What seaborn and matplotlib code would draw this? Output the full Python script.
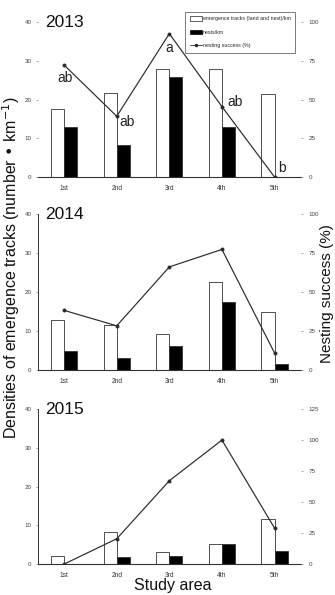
import pandas as pd
import matplotlib
matplotlib.use('Agg')
import matplotlib.pyplot as plt
import seaborn as sns
from matplotlib.patches import Patch
from matplotlib.lines import Line2D

# Datos
areas = ['1st', '2nd', '3rd', '4th', '5th']
years = ['2013', '2014', '2015']

tracks_2013 = [17.6, 21.7, 28.0, 27.9, 21.5]
nests_2013 = [12.8, 8.2, 25.9, 12.8, 0.0]
success_2013 = [72.2, 39.2, 92.5, 45.4, 0.0]

tracks_2014 = [12.8, 11.5, 9.2, 22.7, 14.8]
nests_2014 = [4.9, 3.2, 6.2, 17.5, 1.5]
success_2014 = [38.3, 28.4, 66.2, 77.4, 11.0]

tracks_2015 = [2.0, 8.4, 3.1, 5.1, 11.7]
nests_2015 = [0.0, 1.7, 2.1, 5.1, 3.3]
success_2015 = [0.0, 20.4, 67.2, 100.0, 29.0]

letters_2013 = ['ab', 'ab', 'a', 'ab', 'b']
right_max = [100, 100, 125]

lab_tracks = 'emergence tracks (land and nest)/km'
lab_nests = 'nests/km'
lab_success = 'nesting success (%)'

tracks_all = [tracks_2013, tracks_2014, tracks_2015]
nests_all = [nests_2013, nests_2014, nests_2015]
success_all = [success_2013, success_2014, success_2015]

sns.set_style('white')
plt.rcParams['font.family'] = ['Liberation Sans', 'DejaVu Sans']

fig = plt.figure(figsize=(3.35, 5.95), dpi=100)
pos = [(0.113, 0.7025, 0.785, 0.2605),
       (0.113, 0.378, 0.785, 0.262),
       (0.113, 0.052, 0.785, 0.2605)]

line_col = '#2a2a2a'
# desplazamiento de las letras respecto a cada punto (pixeles)
letter_off = [(1, -13), (10, -6), (0, -14), (13, 5), (7, 9)]

for i, year in enumerate(years):
    ax = fig.add_axes(pos[i])
    df = pd.DataFrame({
        'area': areas * 2,
        'value': tracks_all[i] + nests_all[i],
        'kind': [lab_tracks] * 5 + [lab_nests] * 5,
    })
    sns.barplot(data=df, x='area', y='value', hue='kind',
                hue_order=[lab_tracks, lab_nests],
                palette=['white', 'black'], edgecolor='#333333',
                linewidth=0.6, width=0.5, saturation=1,
                errorbar=None, legend=False, ax=ax)
    ax.set_xlim(-0.5, 4.5)
    ax.set_ylim(0, 40)
    ax.set_yticks([0, 10, 20, 30, 40])
    ax.set_xlabel('')
    ax.set_ylabel('')
    for s in ['top', 'right']:
        ax.spines[s].set_visible(False)
    ax.spines['left'].set_visible(i > 0)
    ax.spines['left'].set_color('#333333')
    ax.spines['left'].set_linewidth(0.7)
    ax.spines['bottom'].set_color('#333333')
    ax.spines['bottom'].set_linewidth(0.8)
    ax.tick_params(axis='y', length=1.5, width=0.6, color='#999999',
                   labelsize=4.5, labelcolor='#444444', pad=3, left=True)
    ax.tick_params(axis='x', length=0, labelsize=4.8, labelcolor='#333333', pad=6)

    ax2 = ax.twinx()
    sns.pointplot(x=areas, y=success_all[i], ax=ax2, color=line_col,
                  markers='o', markersize=2.2, linewidth=0.85, errorbar=None)
    ax2.set_xlim(-0.5, 4.5)
    ax2.set_ylim(0, right_max[i])
    ax2.set_yticks(list(range(0, right_max[i] + 1, 25)))
    ax2.set_ylabel('')
    for s in ['top', 'right', 'left', 'bottom']:
        ax2.spines[s].set_visible(False)
    ax2.tick_params(axis='y', length=1.5, width=0.6, color='#999999',
                    labelsize=4.5, labelcolor='#444444', pad=4, right=True)

    ax.text(0.027, 1.0, year, transform=ax.transAxes, fontsize=12.5,
            ha='left', va='center', color='#111111')

    if i == 0:
        for k, let in enumerate(letters_2013):
            ax2.annotate(let, (k, success_2013[k]), xytext=letter_off[k],
                         textcoords='offset pixels', fontsize=10,
                         ha='center', va='center', color='#222222')
        handles = [Patch(facecolor='white', edgecolor='#222222', lw=0.5),
                   Patch(facecolor='black', edgecolor='black', lw=0.5),
                   Line2D([], [], color=line_col, lw=0.6, marker='o', ms=1.5)]
        leg = ax2.legend(handles, [lab_tracks, lab_nests, lab_success],
                         loc='upper right', bbox_to_anchor=(298 / 335, 1 - 9 / 595),
                         bbox_transform=fig.transFigure, fontsize=3.8,
                         frameon=True, fancybox=False, edgecolor='#666666',
                         framealpha=1, labelspacing=1.6, handlelength=2.2,
                         handleheight=0.9, handletextpad=0.2, borderpad=0.9)
        leg.get_frame().set_linewidth(0.6)

fig.text(0.032, 0.55, 'Densities of emergence tracks (number • km$^{-1}$)',
         rotation=90, ha='center', va='center', fontsize=11.5, color='#111111')
fig.text(0.975, 0.507, 'Nesting success (%)', rotation=90,
         ha='center', va='center', fontsize=11, color='#111111')
fig.text(0.516, 0.016, 'Study area', ha='center', va='center',
         fontsize=11.5, color='#111111')

fig.savefig('out.png', dpi=100)
